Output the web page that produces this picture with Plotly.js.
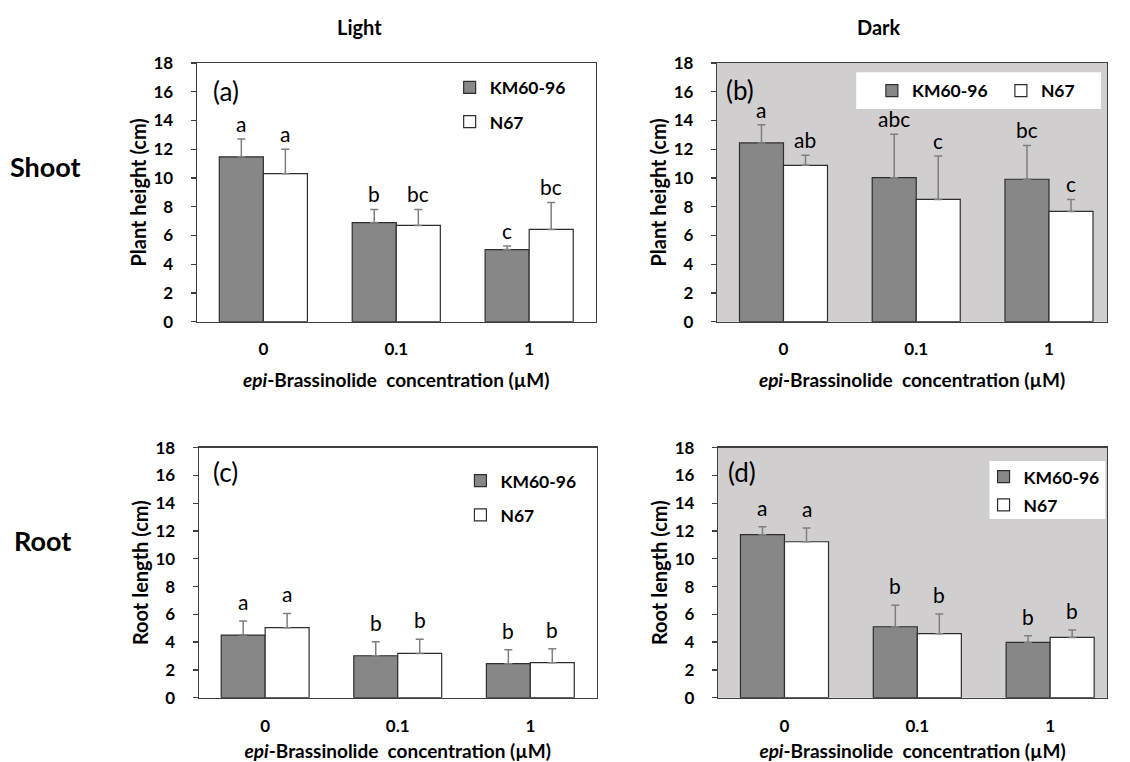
<!DOCTYPE html>
<html>
<head>
<meta charset="utf-8">
<script src="https://cdn.plot.ly/plotly-3.0.1.min.js"></script>
<style>html,body{margin:0;padding:0;background:#fff;}#chart{width:1130px;height:762px;}</style>
</head>
<body>
<div id="chart"></div>
<script>
// ---------- DATA ----------
const categories = ['0', '0.1', '1'];
const seriesNames = ['KM60-96', 'N67'];

// (a) Shoot, Light
const shootLightKM = [11.47, 6.90, 5.02];
const shootLightKMErr = [1.25, 0.91, 0.24];
const shootLightN67 = [10.30, 6.70, 6.42];
const shootLightN67Err = [1.70, 1.11, 1.88];
const shootLightKMLetters = ['a', 'b', 'c'];
const shootLightN67Letters = ['a', 'bc', 'bc'];

// (b) Shoot, Dark
const shootDarkKM = [12.44, 10.02, 9.91];
const shootDarkKMErr = [1.26, 3.03, 2.35];
const shootDarkN67 = [10.88, 8.51, 7.67];
const shootDarkN67Err = [0.70, 3.02, 0.84];
const shootDarkKMLetters = ['a', 'abc', 'bc'];
const shootDarkN67Letters = ['ab', 'c', 'c'];

// (c) Root, Light
const rootLightKM = [4.51, 3.02, 2.45];
const rootLightKMErr = [1.01, 1.01, 1.01];
const rootLightN67 = [5.04, 3.19, 2.52];
const rootLightN67Err = [1.03, 1.01, 1.01];
const rootLightKMLetters = ['a', 'b', 'b'];
const rootLightN67Letters = ['a', 'b', 'b'];

// (d) Root, Dark
const rootDarkKM = [11.74, 5.11, 3.98];
const rootDarkKMErr = [0.57, 1.54, 0.48];
const rootDarkN67 = [11.23, 4.61, 4.34];
const rootDarkN67Err = [0.99, 1.41, 0.53];
const rootDarkKMLetters = ['a', 'b', 'b'];
const rootDarkN67Letters = ['a', 'b', 'b'];

const panelLabels = ['(a)', '(b)', '(c)', '(d)'];
const columnTitles = ['Light', 'Dark'];
const rowTitles = ['Shoot', 'Root'];
const yTitles = ['Plant height (cm)', 'Root length (cm)'];
const xTitle = '<i>epi</i>-Brassinolide\u00a0 concentration (µM)';

// ---------- STYLE ----------
const W = 1130, H = 762;
const FONT = 'Lato, "Open Sans", sans-serif';
const kmColor = '#878787';
const n67Color = '#ffffff';
const barLine = '#2e2e2e';
const errColor = '#7f7f7f';
const axisColor = '#3f3f3f';
const darkBg = '#d0cece';
const BARGAP = 0.337;

const px = v => v / W;
const py = v => 1 - v / H;

const panels = [
  {xa: 'x',  ya: 'y',  xd: [201, 608],  yd: [63, 321.7],  range: [-0.5, 2.5],   legend: 'legend',  dark: false},
  {xa: 'x2', ya: 'y2', xd: [732, 1130], yd: [63, 321.7],  range: [-0.5, 2.437], legend: 'legend2', dark: true},
  {xa: 'x3', ya: 'y3', xd: [203, 609],  yd: [447.7, 697.7], range: [-0.5, 2.5],  legend: 'legend3', dark: false},
  {xa: 'x4', ya: 'y4', xd: [733, 1130], yd: [447.7, 697.7], range: [-0.5, 2.428], legend: 'legend4', dark: true}
];

const panelData = [
  [shootLightKM, shootLightKMErr, shootLightN67, shootLightN67Err, shootLightKMLetters, shootLightN67Letters],
  [shootDarkKM, shootDarkKMErr, shootDarkN67, shootDarkN67Err, shootDarkKMLetters, shootDarkN67Letters],
  [rootLightKM, rootLightKMErr, rootLightN67, rootLightN67Err, rootLightKMLetters, rootLightN67Letters],
  [rootDarkKM, rootDarkKMErr, rootDarkN67, rootDarkN67Err, rootDarkKMLetters, rootDarkN67Letters]
];

const traces = [];
const annotations = [];
const shapes = [];
const layout = {
  width: W, height: H,
  margin: {l: 0, r: 0, t: 0, b: 0},
  paper_bgcolor: '#ffffff',
  plot_bgcolor: 'rgba(0,0,0,0)',
  font: {family: FONT, color: '#000000'},
  barmode: 'group',
  bargap: BARGAP,
  bargroupgap: 0,
  showlegend: true
};

const letterShift = [1, 1, 5, 5];
const xTickLen = [12, 13];
const xTitleStandoff = [15, 14];

panels.forEach((p, i) => {
  const [km, kmErr, n67, n67Err, kmL, n67L] = panelData[i];
  const sfx = i === 0 ? '' : String(i + 1);
  const zeros = km.map(() => 0);
  const errStyle = {color: errColor, thickness: 1.5, width: 4};
  traces.push({
    type: 'bar', x: categories, y: km, name: seriesNames[0],
    xaxis: p.xa, yaxis: p.ya, legend: p.legend, legendgroup: 'km' + i,
    marker: {color: kmColor, line: {color: barLine, width: 1.2}},
    error_y: Object.assign({type: 'data', symmetric: false, array: kmErr, arrayminus: zeros}, errStyle),
    hoverinfo: 'skip'
  });
  traces.push({
    type: 'bar', x: categories, y: n67, name: seriesNames[1],
    xaxis: p.xa, yaxis: p.ya, legend: p.legend, legendgroup: 'n67' + i,
    marker: {color: n67Color, line: {color: barLine, width: 1.2}},
    error_y: Object.assign({type: 'data', symmetric: false, array: n67Err, arrayminus: zeros}, errStyle),
    hoverinfo: 'skip'
  });

  const row = i < 2 ? 0 : 1;
  layout['xaxis' + sfx] = {
    domain: [px(p.xd[0]), px(p.xd[1])], anchor: 'y' + sfx,
    type: 'category', range: p.range, fixedrange: true,
    showline: true, mirror: true, linecolor: axisColor, linewidth: 1.3,
    ticks: 'outside', ticklen: xTickLen[row], tickcolor: 'rgba(0,0,0,0)',
    showgrid: false, zeroline: false,
    tickfont: {family: FONT, size: 17, weight: 'bold', color: '#000'},
    title: {text: xTitle, font: {family: FONT, size: 19, weight: 'bold', color: '#000'}, standoff: xTitleStandoff[row]}
  };
  layout['yaxis' + sfx] = {
    domain: [py(p.yd[1]), py(p.yd[0])], anchor: 'x' + sfx,
    range: [0, 18], dtick: 2, tick0: 0, fixedrange: true,
    showline: true, mirror: true, linecolor: axisColor, linewidth: 1.3,
    ticks: 'outside', ticklen: 5, tickcolor: axisColor, tickwidth: 1.3,
    ticklabelstandoff: 14,
    showgrid: false, zeroline: false,
    tickfont: {family: FONT, size: 17, weight: 'bold', color: '#000'},
    title: {text: yTitles[row], font: {family: FONT, size: 20, weight: 'bold', color: '#000'}, standoff: 1}
  };

  if (p.dark) {
    shapes.push({type: 'rect', xref: p.xa + ' domain', yref: p.ya + ' domain', x0: 0, x1: 1, y0: 0, y1: 1,
      fillcolor: darkBg, line: {width: 0}, layer: 'below'});
  }

  const off = (1 - BARGAP) / 4;
  categories.forEach((c, k) => {
    annotations.push({xref: p.xa, yref: p.ya, x: k - off, y: km[k] + kmErr[k], text: kmL[k],
      showarrow: false, yanchor: 'bottom', xanchor: 'center', yshift: letterShift[i],
      font: {family: FONT, size: 21, color: '#000'}});
    annotations.push({xref: p.xa, yref: p.ya, x: k + off, y: n67[k] + n67Err[k], text: n67L[k],
      showarrow: false, yanchor: 'bottom', xanchor: 'center', yshift: letterShift[i],
      font: {family: FONT, size: 21, color: '#000'}});
  });
});

const labelPos = [[215, 91], [739, 90], [215, 471.7], [741, 471.7]];
panelLabels.forEach((t, i) => {
  annotations.push({xref: 'paper', yref: 'paper', x: px(labelPos[i][0]), y: py(labelPos[i][1]), text: t,
    showarrow: false, xanchor: 'left', yanchor: 'middle', font: {family: FONT, size: 26, color: '#000'}});
});
annotations.push({xref: 'paper', yref: 'paper', x: px(367), y: py(26.7), text: columnTitles[0], showarrow: false,
  xanchor: 'center', yanchor: 'middle', font: {family: FONT, size: 20, weight: 'bold', color: '#000'}});
annotations.push({xref: 'paper', yref: 'paper', x: px(897.5), y: py(27.3), text: columnTitles[1], showarrow: false,
  xanchor: 'center', yanchor: 'middle', font: {family: FONT, size: 20, weight: 'bold', color: '#000'}});
annotations.push({xref: 'paper', yref: 'paper', x: px(46.7), y: py(166), text: rowTitles[0], showarrow: false,
  xanchor: 'center', yanchor: 'middle', font: {family: FONT, size: 27, weight: 'bold', color: '#000'}});
annotations.push({xref: 'paper', yref: 'paper', x: px(43.8), y: py(540.5), text: rowTitles[1], showarrow: false,
  xanchor: 'center', yanchor: 'middle', font: {family: FONT, size: 27, weight: 'bold', color: '#000'}});

// white legend boxes on the dark panels
shapes.push({type: 'rect', xref: 'paper', yref: 'paper', x0: px(874), x1: px(1124), y0: py(109), y1: py(72.3),
  fillcolor: '#ffffff', line: {width: 0}, layer: 'below'});
shapes.push({type: 'rect', xref: 'paper', yref: 'paper', x0: px(1010), x1: px(1128.3), y0: py(519), y1: py(461),
  fillcolor: '#ffffff', line: {width: 0}, layer: 'below'});

const legendFont = {family: FONT, size: 17.5, weight: 'bold', color: '#000'};
layout.legend = {x: px(459), y: py(69.4), xanchor: 'left', yanchor: 'top', bgcolor: 'rgba(0,0,0,0)',
  traceorder: 'grouped', tracegroupgap: 8.65, font: legendFont, itemclick: false, itemdoubleclick: false};
layout.legend2 = {x: px(890), y: py(90.7), xanchor: 'left', yanchor: 'middle', orientation: 'h', bgcolor: 'rgba(0,0,0,0)',
  entrywidth: 84, font: legendFont, itemclick: false, itemdoubleclick: false};
layout.legend3 = {x: px(470), y: py(462.8), xanchor: 'left', yanchor: 'top', bgcolor: 'rgba(0,0,0,0)',
  traceorder: 'grouped', tracegroupgap: 8.55, font: legendFont, itemclick: false, itemdoubleclick: false};
layout.legend4 = {x: px(1004), y: py(458.8), xanchor: 'left', yanchor: 'top', bgcolor: 'rgba(0,0,0,0)',
  traceorder: 'grouped', tracegroupgap: 2.55, font: legendFont, itemclick: false, itemdoubleclick: false};

layout.annotations = annotations;
layout.shapes = shapes;

Plotly.newPlot('chart', traces, layout, {displayModeBar: false, staticPlot: true});
</script>
</body>
</html>
